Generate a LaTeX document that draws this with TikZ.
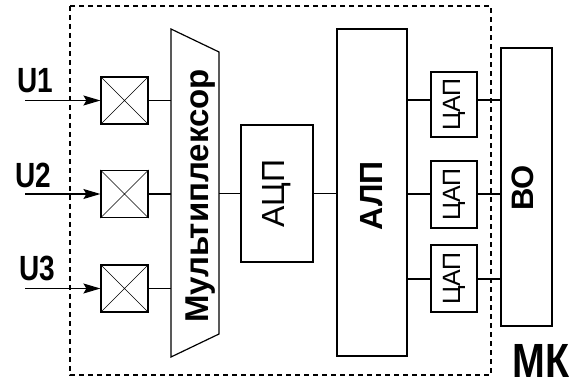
\documentclass[tikz,border=0pt]{standalone}
\usepackage{fontspec}
\setmainfont{Liberation Sans}
\usetikzlibrary{arrows.meta}
\tikzset{
  blk/.style={draw, line width=1.2pt, inner sep=0pt, anchor=center},
  wire/.style={line width=1.2pt},
  inwire/.style={line width=1.2pt, -{Stealth[length=17pt,width=10pt,inset=3pt]}},
  frame/.style={line width=1.2pt, dash pattern=on 5pt off 4pt},
  lbl/.style={inner sep=0pt, anchor=center},
}
\begin{document}
\begin{tikzpicture}[x=1pt,y=1pt]
\useasboundingbox (0,0) rectangle (579,-387);
\fill[white] (0,0) rectangle (579,-387);

% microcontroller boundary
\draw[frame] (70,-6) rectangle (491,-375);
\node[lbl, font=\fontsize{48}{54}\selectfont\bfseries, xscale=0.82] (mk) at (541,-361) {МК};

% input switches
\foreach \i/\y in {1/100.5, 2/194, 3/288.5}{
  \node[blk, minimum width=47pt, minimum height=47pt] (sw\i) at (124.5,-\y) {};
  \draw[line width=0.7pt] (sw\i.north west) -- (sw\i.south east)
                          (sw\i.south west) -- (sw\i.north east);
  \coordinate (in\i) at (25,-\y);
}
\node[lbl, font=\fontsize{35}{40}\selectfont\bfseries, xscale=0.8] (u1) at (35,-80.5) {U1};
\node[lbl, font=\fontsize{35}{40}\selectfont\bfseries, xscale=0.8] (u2) at (33,-175) {U2};
\node[lbl, font=\fontsize{35}{40}\selectfont\bfseries, xscale=0.8] (u3) at (37,-268.5) {U3};
\foreach \i in {1,2,3}{
  \draw[inwire] (in\i) -- (sw\i.west);
}

% multiplexer
\coordinate (muxTL) at (171,-29);
\coordinate (muxTR) at (219,-52);
\coordinate (muxBR) at (219,-334);
\coordinate (muxBL) at (171,-357);
\draw[wire, line join=miter] (muxTL) -- (muxTR) -- (muxBR) -- (muxBL) -- cycle;
\node[lbl, rotate=90, font=\fontsize{33}{38}\selectfont\bfseries] (muxtxt) at (201,-196) {Мультиплексор};
\foreach \i in {1,2,3}{
  \draw[wire] (sw\i.east) -- (sw\i.east -| muxTL);
}

% converter, ALU, DACs, output unit
\node[blk, minimum width=72pt, minimum height=137pt] (adc) at (277,-193.5) {};
\node[lbl, rotate=90, font=\fontsize{32}{36}\selectfont] at (adc.center) {АЦП};
\node[blk, minimum width=70pt, minimum height=327pt] (alu) at (372,-192.5) {};
\node[lbl, rotate=90, font=\fontsize{32}{36}\selectfont\bfseries] at (372,-196) {АЛП};
\node[blk, minimum width=46pt, minimum height=65pt] (dac1) at (454,-104.5) {};
\node[blk, minimum width=46pt, minimum height=67pt] (dac2) at (454,-194.5) {};
\node[blk, minimum width=46pt, minimum height=67pt] (dac3) at (454,-278.5) {};
\foreach \i in {1,2,3}{
  \node[lbl, rotate=90, font=\fontsize{25}{30}\selectfont] at (dac\i.center) {ЦАП};
}
\node[blk, minimum width=51pt, minimum height=278pt] (bo) at (526.5,-187) {};
\node[lbl, rotate=90, font=\fontsize{31}{36}\selectfont\bfseries] at (523,-188) {ВО};

\draw[wire] (muxBR |- adc.west) -- (adc.west);
\draw[wire] (adc.east) -- (adc.east -| alu.west);

\coordinate (r1) at (0,-100);
\coordinate (r2) at (0,-194);
\coordinate (r3) at (0,-279);
\foreach \i in {1,2,3}{
  \draw[wire] (alu.east |- r\i) -- (dac\i.west |- r\i);
  \draw[wire] (dac\i.east |- r\i) -- (bo.west |- r\i);
}
\end{tikzpicture}
\end{document}
